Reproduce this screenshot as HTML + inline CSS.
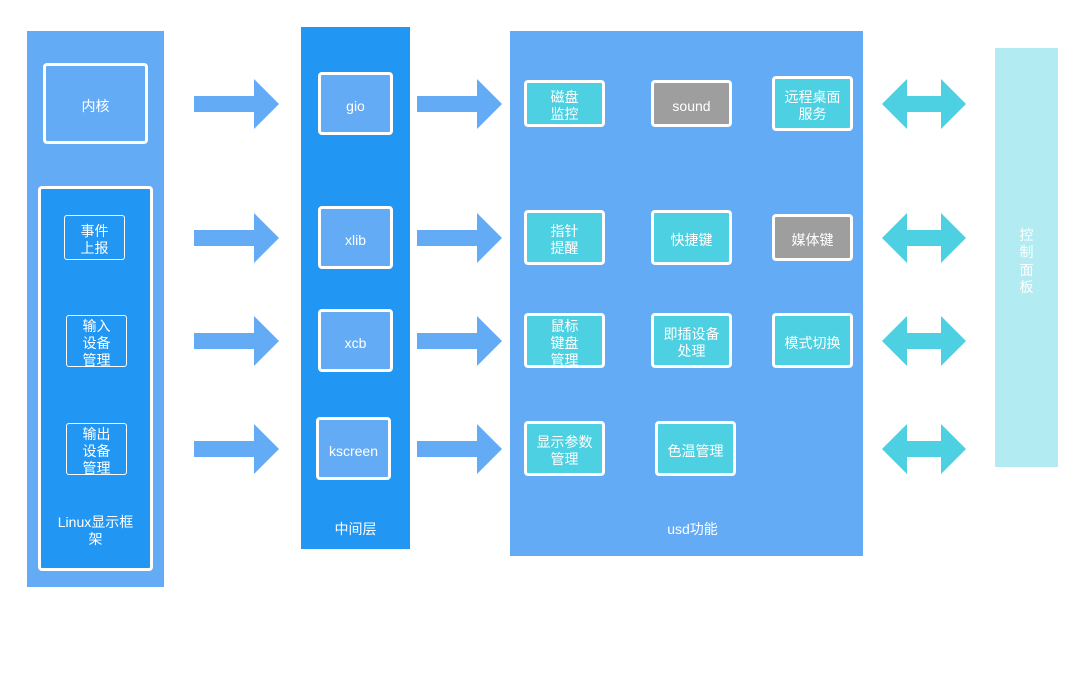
<!DOCTYPE html>
<html><head><meta charset="utf-8"><style>
*{margin:0;padding:0;box-sizing:border-box}
body{width:1084px;height:680px;background:#fff;position:relative;overflow:hidden;font-family:"Liberation Sans","Noto Sans CJK SC",sans-serif;color:#fff;font-size:14px}
.a{position:absolute}
.bx{position:absolute;display:flex;align-items:center;justify-content:center;text-align:center;line-height:17px;padding-top:5px}
.lb{background:#64abf5}.db{background:#2196f3}
.w3{border:3px solid #fff;border-radius:4px}
.w1{border:1px solid #fff;border-radius:3px}
.cy{background:#4dd0e1}.gr{background:#9e9e9e}
</style></head><body>
<div class="a lb" style="left:27px;top:31px;width:137px;height:556px"></div>
<div class="bx lb w3" style="left:43px;top:63px;width:105px;height:81px">内核</div>
<div class="a db w3" style="left:38px;top:186px;width:115px;height:385px"></div>
<div class="bx w1" style="left:64px;top:215px;width:61px;height:45px">事件<br>上报</div>
<div class="bx w1" style="left:66px;top:315px;width:61px;height:52px">输入<br>设备<br>管理</div>
<div class="bx w1" style="left:66px;top:423px;width:61px;height:52px">输出<br>设备<br>管理</div>
<div class="bx" style="left:50px;top:511px;width:91px;height:34px">Linux显示框<br>架</div>

<div class="a db" style="left:301px;top:27px;width:109px;height:522px"></div>
<div class="bx lb w3" style="left:318px;top:72px;width:75px;height:63px">gio</div>
<div class="bx lb w3" style="left:318px;top:206px;width:75px;height:63px">xlib</div>
<div class="bx lb w3" style="left:318px;top:309px;width:75px;height:63px">xcb</div>
<div class="bx lb w3" style="left:316px;top:417px;width:75px;height:63px">kscreen</div>
<div class="bx" style="left:301px;top:518px;width:109px;height:18px">中间层</div>

<div class="a lb" style="left:510px;top:31px;width:353px;height:525px"></div>
<div class="bx cy w3" style="left:524px;top:80px;width:81px;height:47px">磁盘<br>监控</div>
<div class="bx gr w3" style="left:651px;top:80px;width:81px;height:47px">sound</div>
<div class="bx cy w3" style="left:772px;top:76px;width:81px;height:55px">远程桌面<br>服务</div>
<div class="bx cy w3" style="left:524px;top:210px;width:81px;height:55px">指针<br>提醒</div>
<div class="bx cy w3" style="left:651px;top:210px;width:81px;height:55px">快捷键</div>
<div class="bx gr w3" style="left:772px;top:214px;width:81px;height:47px">媒体键</div>
<div class="bx cy w3" style="left:524px;top:313px;width:81px;height:55px">鼠标<br>键盘<br>管理</div>
<div class="bx cy w3" style="left:651px;top:313px;width:81px;height:55px">即插设备<br>处理</div>
<div class="bx cy w3" style="left:772px;top:313px;width:81px;height:55px">模式切换</div>
<div class="bx cy w3" style="left:524px;top:421px;width:81px;height:55px">显示参数<br>管理</div>
<div class="bx cy w3" style="left:655px;top:421px;width:81px;height:55px">色温管理</div>
<div class="bx" style="left:510px;top:518px;width:365px;height:18px">usd功能</div>

<div class="bx" style="left:995px;top:48px;width:63px;height:419px;background:#b2ebf2;line-height:17.5px;padding-top:8px">控<br>制<br>面<br>板</div>

<svg class="a" style="left:0;top:0" width="1084" height="680">
<g fill="#64abf5">
<polygon points="194,96 254,96 254,79 279,104 254,129 254,112 194,112"/>
<polygon points="194,230 254,230 254,213 279,238 254,263 254,246 194,246"/>
<polygon points="194,333 254,333 254,316 279,341 254,366 254,349 194,349"/>
<polygon points="194,441 254,441 254,424 279,449 254,474 254,457 194,457"/>
<polygon points="417,96 477,96 477,79 502,104 477,129 477,112 417,112"/>
<polygon points="417,230 477,230 477,213 502,238 477,263 477,246 417,246"/>
<polygon points="417,333 477,333 477,316 502,341 477,366 477,349 417,349"/>
<polygon points="417,441 477,441 477,424 502,449 477,474 477,457 417,457"/>
</g>
<g fill="#4dd0e1">
<polygon points="882,104 907,79 907,96 941,96 941,79 966,104 941,129 941,112 907,112 907,129"/>
<polygon points="882,238 907,213 907,230 941,230 941,213 966,238 941,263 941,246 907,246 907,263"/>
<polygon points="882,341 907,316 907,333 941,333 941,316 966,341 941,366 941,349 907,349 907,366"/>
<polygon points="882,449 907,424 907,441 941,441 941,424 966,449 941,474 941,457 907,457 907,474"/>
</g>
</svg>
</body></html>
